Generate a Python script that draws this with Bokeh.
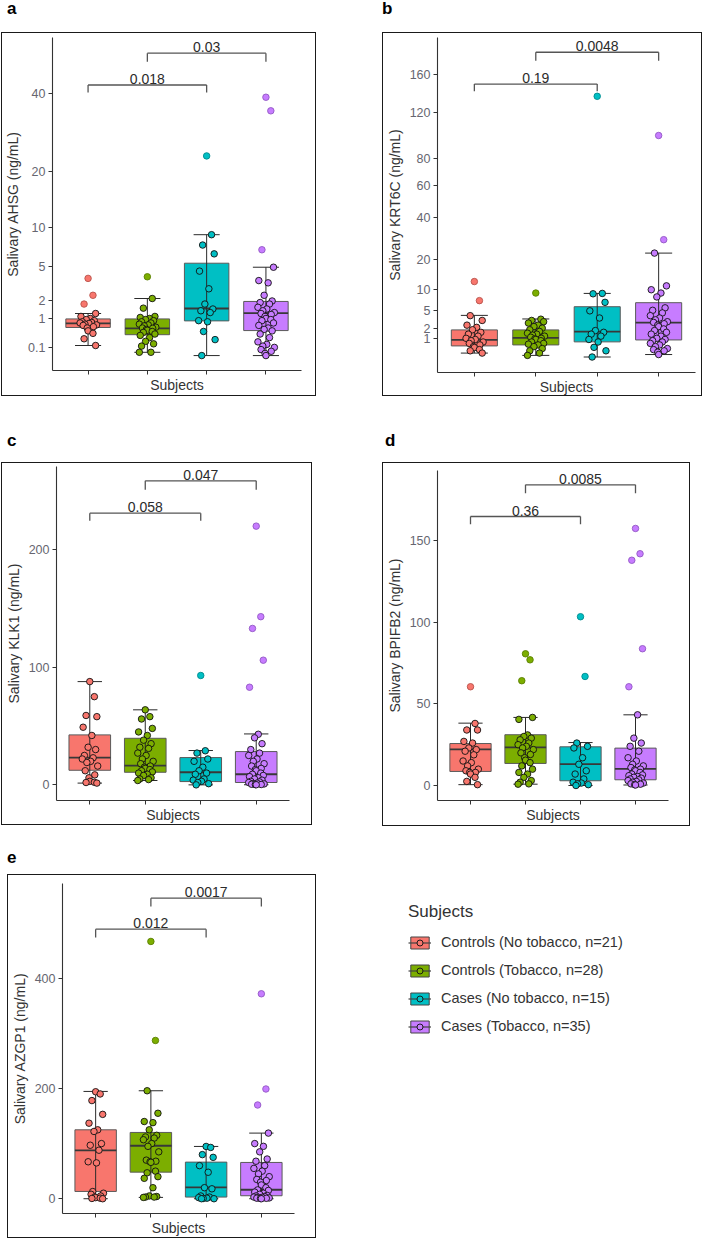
import numpy as np
from bokeh.plotting import figure
from bokeh.models import (ColumnDataSource, FixedTicker, CustomJSTickFormatter, Range1d,
                          Div, Spacer, Legend, LegendItem)
from bokeh.layouts import column, row
from bokeh.embed import file_html
from bokeh.resources import INLINE
from bokeh.core.properties import value

FONT = "Liberation Sans"

GROUPS = ["Controls (No tobacco, n=21)", "Controls (Tobacco, n=28)",
          "Cases (No tobacco, n=15)", "Cases (Tobacco, n=35)"]
COLORS = ["#F8766D", "#7CAE00", "#00BFC4", "#C77CFF"]
EDGES = ["#b8524b", "#5a7f00", "#008a8d", "#9258c4"]

# ---------------- panel a : AHSG (sqrt scale) ----------------
ahsg_g1 = [3.8, 2.4, 1.8, 1.25, 1.1, 1.0, 0.95, 0.9, 0.85, 0.82, 0.8, 0.78, 0.75, 0.72, 0.7, 0.65, 0.6, 0.5, 0.42, 0.27, 0.13]
ahsg_g2 = [3.95, 2.17, 1.55, 1.1, 1.05, 1.0, 0.95, 0.9, 0.85, 0.8, 0.75, 0.72, 0.68, 0.63, 0.6, 0.59, 0.55, 0.52, 0.48, 0.45, 0.4, 0.36, 0.3, 0.21, 0.16, 0.12, 0.04, 0.04]
ahsg_g3 = [23.5, 8.9, 7.5, 6.4, 4.5, 2.9, 1.8, 1.5, 1.4, 1.3, 0.9, 0.85, 0.48, 0.25, 0.015]
ahsg_g4 = [38.9, 35.0, 6.9, 4.9, 3.6, 3.4, 2.4, 2.0, 1.9, 1.8, 1.6, 1.5, 1.4, 1.3, 1.25, 1.2, 1.1, 1.0, 0.95, 0.9, 0.8, 0.7, 0.6, 0.55, 0.5, 0.4, 0.3, 0.2, 0.15, 0.12, 0.1, 0.07, 0.05, 0.03, 0.015]
ahsg_q1 = [0.62, 0.38, 0.89, 0.51]
ahsg_med = [0.78, 0.59, 1.53, 1.27]
ahsg_q3 = [0.98, 0.98, 5.33, 1.97]
ahsg_lo = [0.13, 0.04, 0.015, 0.015]
ahsg_hi = [1.25, 2.17, 8.9, 4.9]
ahsg_ticks = [0.1, 1, 2, 5, 10, 20, 40]
ahsg_br_y = [42.6, 53.0]
ahsg_br_tip = [40.3, 50.1]
ahsg_br_lab = ["0.018", "0.03"]

# ---------------- panel b : KRT6C (sqrt scale) ----------------
krt_g1 = [12.3, 7.1, 4.0, 3.2, 2.5, 2.2, 1.9, 1.6, 1.4, 1.2, 1.0, 0.9, 0.8, 0.7, 0.6, 0.5, 0.4, 0.35, 0.25, 0.2, 0.12]
krt_g2 = [9.0, 3.4, 3.2, 3.0, 2.8, 2.5, 2.3, 2.1, 1.9, 1.7, 1.5, 1.4, 1.3, 1.2, 1.1, 1.0, 0.95, 0.9, 0.8, 0.7, 0.6, 0.55, 0.5, 0.4, 0.3, 0.2, 0.12, 0.06]
krt_g3 = [136.7, 8.9, 8.8, 6.7, 4.9, 3.6, 1.8, 1.6, 1.4, 1.2, 0.9, 0.7, 0.36, 0.2, 0.03]
krt_g4 = [99.2, 28.7, 22.7, 11.0, 9.9, 9.0, 8.0, 5.5, 5.0, 4.5, 4.0, 3.6, 3.3, 3.0, 2.9, 2.7, 2.5, 2.3, 2.0, 1.8, 1.6, 1.4, 1.2, 1.0, 0.9, 0.8, 0.7, 0.6, 0.5, 0.4, 0.3, 0.25, 0.2, 0.15, 0.08]
krt_q1 = [0.44, 0.5, 0.71, 0.86]
krt_med = [0.86, 1.04, 1.68, 2.86]
krt_q3 = [1.88, 1.88, 5.74, 6.62]
krt_lo = [0.12, 0.06, 0.03, 0.08]
krt_hi = [4.05, 3.44, 8.9, 22.7]
krt_ticks = [1, 2, 5, 10, 20, 40, 60, 80, 120, 160]
krt_br_y = [149.6, 186.0]
krt_br_tip = [141.9, 175.8]
krt_br_lab = ["0.19", "0.0048"]

# ---------------- panel c : KLK1 ----------------
klk_g1 = [87.8, 75, 59, 58, 49, 42, 32, 30, 25, 23, 22, 20, 19, 16, 12, 8.5, 6, 3, 2.2, 2, 1.5]
klk_g2 = [63.8, 58, 56, 48, 45, 42, 38, 35, 32, 31, 27, 25, 22, 20, 18, 16, 15, 14, 13, 12, 11, 10, 9, 8, 6, 5, 4.5, 3.7]
klk_g3 = [93, 29, 27, 22, 20, 15, 12, 10, 9, 5, 4, 3, 2, 1, 0]
klk_g4 = [220, 143, 133, 106, 83, 43, 40, 35, 30, 27, 25, 22, 20, 18, 16, 14, 13, 12, 10, 9, 8, 7, 6, 5, 4, 3, 2.5, 2, 1.5, 1, 0.8, 0.5, 0.3, 0.2, 0.1]
klk_q1 = [12.4, 10.7, 2.8, 2.0]
klk_med = [23.2, 16.4, 10.7, 9.0]
klk_q3 = [42.5, 39.6, 23.2, 28.3]
klk_lo = [1.5, 3.7, 0, 0.1]
klk_hi = [87.8, 63.8, 29.2, 43.3]
klk_ticks = [0, 100, 200]
klk_br_y = [231, 258.5]
klk_br_tip = [224.5, 250.9]
klk_br_lab = ["0.058", "0.047"]

# ---------------- panel d : BPIFB2 ----------------
bpi_g1 = [60.5, 38, 34, 34, 27, 26, 23, 22, 21, 18.8, 15, 14, 12, 10, 9, 8, 8, 7, 5, 2.5, 0.5]
bpi_g2 = [80.7, 77, 64.2, 41.7, 40.5, 31, 30, 29, 28, 26, 25, 24, 23, 22, 20, 19, 17, 15.5, 14, 12, 10, 8, 7, 5, 3, 2, 1, 0.8]
bpi_g3 = [103.4, 66.8, 26, 24, 23, 17, 13, 9, 7, 4, 2, 1.5, 1, 0.5, 0]
bpi_g4 = [157.5, 142, 138, 83.8, 60.5, 43.3, 29, 26, 24, 21, 17, 15, 13, 12, 11, 10, 9.5, 9, 8, 7, 6.5, 6, 5.5, 5, 4.5, 4, 3.5, 3, 2.5, 2, 1.5, 1, 0.8, 0.5, 0.3]
bpi_q1 = [8.6, 13.5, 2.9, 3.5]
bpi_med = [22.1, 23.3, 13.1, 10.2]
bpi_q3 = [25.7, 31.1, 23.7, 22.9]
bpi_lo = [0.5, 0.8, 0, 0.3]
bpi_hi = [38.2, 41.7, 26.3, 43.3]
bpi_ticks = [0, 50, 100, 150]
bpi_br_y = [164.8, 184.2]
bpi_br_tip = [160.1, 179.1]
bpi_br_lab = ["0.36", "0.0085"]

# ---------------- panel e : AZGP1 ----------------
azg_g1 = [194, 190, 178, 153, 137, 125, 122, 100, 97, 88, 67, 65, 13, 10, 8, 5, 3, 2, 1, 0.5, 0]
azg_g2 = [466.6, 287, 195.8, 155, 140, 138, 125, 115, 112, 110, 107, 100, 95, 85, 70, 68, 67, 66, 50, 47, 40, 37, 20, 5, 4, 3, 3, 2.4]
azg_g3 = [94.8, 93, 80, 75, 60, 48, 20, 18, 5, 3, 2, 1, 0.5, 0, 0]
azg_g4 = [371.7, 199, 170, 119, 100, 95, 85, 72, 68, 60, 55, 50, 45, 40, 35, 33, 30, 25, 20, 16, 15, 12, 10, 8, 6, 5, 4, 3, 2.5, 2, 1.5, 1, 0.8, 0.5, 0]
azg_q1 = [13.2, 48.2, 3.0, 5.4]
azg_med = [87.6, 96.1, 20.5, 16.3]
azg_q3 = [125, 120.2, 66.4, 65.8]
azg_lo = [0, 2.4, 0, 0]
azg_hi = [194.6, 195.8, 94.8, 119]
azg_ticks = [0, 200, 400]
azg_br_y = [488.8, 545]
azg_br_tip = [473.8, 530]
azg_br_lab = ["0.012", "0.0017"]

BR_PAIRS = [(1, 3), (2, 4)]
JIT = [0.0, 0.55, -0.45, 0.85, -0.8, 0.25, -0.2, 0.7, -0.65, 0.4, -0.9, 0.1, -0.35, 0.95, -0.55, 0.6, -0.1]


def make_panel(groups, q1, med, q3, lo, hi, ylabel, ticks, yr, br_y, br_tip, br_lab,
               use_sqrt, w, h, bl, br, bt, bb):
    tf = (lambda a: np.sqrt(np.asarray(a, float))) if use_sqrt else (lambda a: np.asarray(a, float))
    p = figure(width=w, height=h, x_range=Range1d(0.4, 4.6), y_range=Range1d(*yr),
               output_backend="svg", toolbar_location=None,
               min_border_left=bl, min_border_right=br, min_border_top=bt, min_border_bottom=bb,
               styles={"border": "1.5px solid #1a1a1a", "box-sizing": "border-box"})
    p.outline_line_color = None
    p.grid.visible = False
    p.background_fill_color = "white"

    xs = np.arange(1, 5, dtype=float)
    box = ColumnDataSource(dict(x=xs, l=xs - 0.375, r=xs + 0.375, cl=xs - 0.22, cr=xs + 0.22,
                                q1=tf(q1), q3=tf(q3), med=tf(med), lo=tf(lo), hi=tf(hi), c=COLORS))
    p.quad(left="l", right="r", bottom="q1", top="q3", fill_color="c", line_color="#5a5a5a",
           line_width=1, source=box)
    p.segment(x0="l", x1="r", y0="med", y1="med", line_color="#383838", line_width=1.8, source=box)
    p.segment(x0="x", x1="x", y0="lo", y1="hi", line_color="#2a2a2a", line_width=1, source=box)
    p.segment(x0="cl", x1="cr", y0="lo", y1="lo", line_color="#2a2a2a", line_width=1, source=box)
    p.segment(x0="cl", x1="cr", y0="hi", y1="hi", line_color="#2a2a2a", line_width=1, source=box)

    px, py, pf, pl = [], [], [], []
    for gi, vals in enumerate(groups):
        for i, v in enumerate(vals):
            px.append(gi + 1 + JIT[i % len(JIT)] * 0.15)
            py.append(v)
            pf.append(COLORS[gi])
            out = v > hi[gi] * 1.0001 + 1e-9 or v < lo[gi] * 0.9999 - 1e-9
            pl.append(EDGES[gi] if out else "#111111")
    pts = ColumnDataSource(dict(x=px, y=tf(py), f=pf, l=pl))
    p.scatter(x="x", y="y", size=6.5, fill_color="f", line_color="l", line_width=0.9, source=pts)

    bx0 = [a for a, b in BR_PAIRS]
    bx1 = [b for a, b in BR_PAIRS]
    bsrc = ColumnDataSource(dict(x0=bx0, x1=bx1, y=tf(br_y), t=tf(br_tip),
                                 xm=[(a + b) / 2 for a, b in BR_PAIRS], lab=br_lab))
    p.segment(x0="x0", x1="x1", y0="y", y1="y", line_color="#555555", line_width=1.3, source=bsrc)
    p.segment(x0="x0", x1="x0", y0="t", y1="y", line_color="#555555", line_width=1.3, source=bsrc)
    p.segment(x0="x1", x1="x1", y0="t", y1="y", line_color="#555555", line_width=1.3, source=bsrc)
    p.text(x="xm", y="y", text="lab", text_font=value(FONT), text_font_size="14px",
           text_align="center", text_baseline="bottom", y_offset=-1, text_color="#2b2b2b", source=bsrc)

    for ax in (p.xaxis[0], p.yaxis[0]):
        ax.axis_line_color = "#333333"
        ax.axis_line_width = 1.1
        ax.major_tick_line_color = "#333333"
        ax.major_tick_out = 4
        ax.major_tick_in = 0
        ax.minor_tick_line_color = None
        ax.major_label_text_font = FONT
        ax.major_label_text_font_size = "12.5px"
        ax.major_label_text_color = "#666670"
        ax.axis_label_text_font = FONT
        ax.axis_label_text_font_size = "14px"
        ax.axis_label_text_font_style = "normal"
        ax.axis_label_text_color = "#333333"
    p.xaxis.ticker = FixedTicker(ticks=[1, 2, 3, 4])
    p.xaxis.major_label_overrides = {1: "", 2: "", 3: "", 4: ""}
    p.xaxis.major_label_standoff = 0
    p.xaxis.axis_label = "Subjects"
    p.xaxis.axis_label_standoff = 2
    p.yaxis.axis_label = ylabel
    p.yaxis.axis_label_standoff = 4
    p.yaxis.major_label_standoff = 3
    p.yaxis.ticker = FixedTicker(ticks=[float(t) for t in tf(ticks)])
    if use_sqrt:
        p.yaxis.formatter = CustomJSTickFormatter(
            code="const v = tick*tick; return String(parseFloat(v.toPrecision(3)));")
    return p


def label_div(letter, w, h, top, left):
    html = ('<div style="position:relative; top:%dpx; left:%dpx; font-family:\'Liberation Sans\', Arial, sans-serif; '
            'font-weight:bold; font-size:17px; line-height:17px; color:#000;">%s</div>' % (top, left, letter))
    return Div(text=html, width=w, height=h, margin=(0, 0, 0, 0))


pa = make_panel([ahsg_g1, ahsg_g2, ahsg_g3, ahsg_g4], ahsg_q1, ahsg_med, ahsg_q3, ahsg_lo, ahsg_hi,
                "Salivary AHSG (ng/mL)", ahsg_ticks, (-0.231, 7.651), ahsg_br_y, ahsg_br_tip, ahsg_br_lab,
                True, 315, 364, 48, 16, 4, 27)
pb = make_panel([krt_g1, krt_g2, krt_g3, krt_g4], krt_q1, krt_med, krt_q3, krt_lo, krt_hi,
                "Salivary KRT6C (ng/mL)", krt_ticks, (-0.511, 14.29), krt_br_y, krt_br_tip, krt_br_lab,
                True, 320, 364, 52, 8, 4, 24)
pc = make_panel([klk_g1, klk_g2, klk_g3, klk_g4], klk_q1, klk_med, klk_q3, klk_lo, klk_hi,
                "Salivary KLK1 (ng/mL)", klk_ticks, (-13.3, 270.7), klk_br_y, klk_br_tip, klk_br_lab,
                False, 311, 363, 50, 24, 3, 26)
pd_ = make_panel([bpi_g1, bpi_g2, bpi_g3, bpi_g4], bpi_q1, bpi_med, bpi_q3, bpi_lo, bpi_hi,
                 "Salivary BPIFB2 (ng/mL)", bpi_ticks, (-9.2, 193.0), bpi_br_y, bpi_br_tip, bpi_br_lab,
                 False, 308, 364, 49, 23, 7, 27)
pe = make_panel([azg_g1, azg_g2, azg_g3, azg_g4], azg_q1, azg_med, azg_q3, azg_lo, azg_hi,
                "Salivary AZGP1 (ng/mL)", azg_ticks, (-26.8, 571.7), azg_br_y, azg_br_tip, azg_br_lab,
                False, 309, 364, 52, 23, 8, 26)

# ---------------- legend figure ----------------
lp = figure(width=386, height=412, x_range=Range1d(0, 1), y_range=Range1d(0, 1),
            output_backend="svg", toolbar_location=None, x_axis_location=None, y_axis_location=None,
            min_border_left=92, min_border_top=76, min_border_right=0, min_border_bottom=0)
lp.outline_line_color = None
lp.grid.visible = False
items = []
for g, c in zip(GROUPS, COLORS):
    rq = lp.quad(left=[0], right=[1], bottom=[0], top=[1], fill_color=c, line_color="#444444",
                 line_width=1, visible=False)
    rs = lp.segment(x0=[0], x1=[1], y0=[0.5], y1=[0.5], line_color="#444444", line_width=1.2, visible=False)
    rc = lp.scatter(x=[0.5], y=[0.5], size=5, fill_color=c, line_color="#111111", line_width=0.9,
                    visible=False)
    items.append(LegendItem(label=g, renderers=[rq, rs, rc]))
leg = Legend(items=items, location="top_left", title="Subjects",
             title_text_font=FONT, title_text_font_size="17px", title_text_font_style="normal",
             title_text_color="#333333", title_standoff=12,
             label_text_font=FONT, label_text_font_size="14.5px", label_text_color="#333333",
             glyph_width=23, glyph_height=15, label_height=15, label_standoff=10, spacing=12,
             padding=0, margin=0, border_line_color=None, background_fill_alpha=0,
             inactive_fill_alpha=0)
lp.add_layout(leg)

row1 = row(Spacer(width=1, height=10), column(label_div("a", 315, 32, 0, 6), pa), Spacer(width=66, height=10),
           column(label_div("b", 320, 32, 0, 0), pb))
row2 = row(Spacer(width=1, height=10), column(label_div("c", 311, 66, 36, 6), pc), Spacer(width=70, height=10),
           column(label_div("d", 308, 66, 36, 3), pd_))
row3 = row(Spacer(width=7, height=10), column(label_div("e", 309, 48, 23, 0), pe), lp)
layout = column(row1, row2, row3)

open("out.html", "w").write(file_html(layout, INLINE, title="Salivary biomarkers"))
